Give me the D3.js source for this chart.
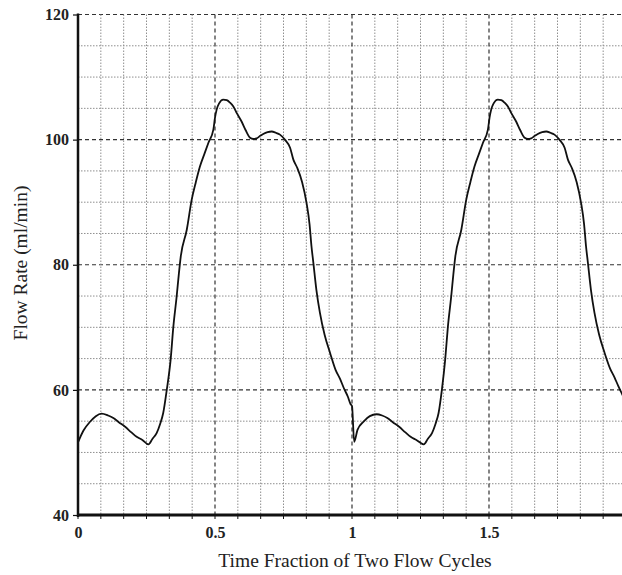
<!DOCTYPE html>
<html>
<head>
<meta charset="utf-8">
<script src="https://cdn.jsdelivr.net/npm/d3@7"></script>
<style>
  html, body { margin: 0; padding: 0; background: #fff; }
  svg { display: block; }
</style>
</head>
<body>
<svg id="chart" width="622" height="575"></svg>
<script>
// ---- data ----
const cycle1Time = [0.000,0.020,0.044,0.065,0.086,0.110,0.129,0.150,0.172,0.195,0.214,0.235,0.257,0.272,0.287,0.300,0.311,0.324,0.338,0.348,0.360,0.368,0.375,0.397,0.415,0.430,0.445,0.462,0.476,0.494,0.500,0.506,0.515,0.530,0.543,0.555,0.567,0.580,0.597,0.612,0.628,0.640,0.652,0.665,0.676,0.692,0.707,0.722,0.737,0.755,0.774,0.786,0.800,0.818,0.834,0.845,0.852,0.859,0.870,0.883,0.900,0.920,0.940,0.956,0.970,0.985,0.995,1.000];
const cycle1Flow = [51.6,53.5,54.9,55.8,56.2,55.9,55.5,54.8,54.1,53.2,52.5,52.0,51.3,52.2,53.1,54.6,56.3,60.0,64.8,70.1,74.9,78.5,81.3,85.6,90.4,93.2,95.7,97.8,99.5,101.6,103.5,104.8,105.8,106.4,106.3,105.9,105.3,104.2,102.9,101.5,100.3,100.1,100.2,100.6,100.9,101.2,101.3,101.1,100.8,100.0,98.7,96.8,95.5,93.2,89.9,86.5,83.0,80.3,76.0,72.3,68.8,65.9,63.2,61.8,60.3,58.9,57.7,57.4];
const cycle2Time = [1.008,1.020,1.044,1.065,1.090,1.110,1.129,1.150,1.172,1.195,1.214,1.235,1.262,1.277,1.292,1.305,1.316,1.328,1.340,1.350,1.362,1.370,1.377,1.399,1.417,1.432,1.447,1.464,1.478,1.496,1.502,1.508,1.517,1.532,1.545,1.557,1.569,1.582,1.599,1.614,1.630,1.642,1.654,1.667,1.678,1.694,1.709,1.724,1.739,1.757,1.776,1.788,1.802,1.820,1.836,1.847,1.854,1.861,1.872,1.885,1.902,1.922,1.942,1.958,1.972,1.985,2.000];
const cycle2Flow = [51.7,53.6,55.0,55.8,56.1,55.9,55.5,54.8,54.1,53.2,52.5,52.0,51.3,52.2,53.1,54.6,56.3,60.0,64.8,70.1,74.9,78.5,81.3,85.6,90.4,93.2,95.7,97.8,99.5,101.6,103.5,104.8,105.8,106.4,106.3,105.9,105.3,104.2,102.9,101.5,100.3,100.1,100.2,100.6,100.9,101.2,101.3,101.1,100.8,100.0,98.7,96.8,95.5,93.2,89.9,86.5,83.0,80.3,76.0,72.3,68.8,65.9,63.4,62.0,60.6,59.4,58.0];
const xTickValues = [0, 0.5, 1, 1.5, 2];
const xTickLabels = ["0", "0.5", "1", "1.5", "2"];
const yTickValues = [40, 60, 80, 100, 120];
const yTickLabels = ["40", "60", "80", "100", "120"];
const xTitle = "Time Fraction of Two Flow Cycles";
const yTitle = "Flow Rate (ml/min)";

// ---- layout ----
const svg = d3.select("#chart");
const padL = 78, padR = 626, padT = 14.5, padB = 515;
const x = d3.scaleLinear().domain([0, 2]).range([padL, padR]);
const y = d3.scaleLinear().domain([40, 120]).range([padB, padT]);
const serif = "'Liberation Serif', 'Times New Roman', serif";

const xMinor = d3.range(1, 24).map(k => k / 12);
const yMinor = d3.range(45, 121, 5);

const grid = svg.append("g");
// horizontal grid
grid.selectAll("line.h").data(yMinor).enter().append("line")
  .attr("x1", padL).attr("x2", 622)
  .attr("y1", d => y(d)).attr("y2", d => y(d))
  .attr("stroke", d => d % 20 === 0 ? "#333" : "#8f8f8f")
  .attr("stroke-width", d => d % 20 === 0 ? 1.2 : 1)
  .attr("stroke-dasharray", d => d % 20 === 0 ? "4,3" : "1.5,1.5");
// vertical grid
grid.selectAll("line.v").data(xMinor).enter().append("line")
  .attr("y1", padT).attr("y2", padB)
  .attr("x1", d => x(d)).attr("x2", d => x(d))
  .attr("stroke", (d, i) => (i + 1) % 6 === 0 ? "#333" : "#8f8f8f")
  .attr("stroke-width", (d, i) => (i + 1) % 6 === 0 ? 1.2 : 1)
  .attr("stroke-dasharray", (d, i) => (i + 1) % 6 === 0 ? "4,3" : "1.5,1.5");

// ---- curve ----
const pts = cycle1Time.map((t, i) => [t, cycle1Flow[i]])
  .concat(cycle2Time.map((t, i) => [t, cycle2Flow[i]]));
const line = d3.line().x(d => x(d[0])).y(d => y(d[1])).curve(d3.curveMonotoneX);
svg.append("path").datum(pts)
  .attr("d", line)
  .attr("fill", "none")
  .attr("stroke", "#111")
  .attr("stroke-width", 1.8)
  .attr("stroke-linejoin", "round");

// ---- axes ----
const xAxis = d3.axisBottom(x).tickValues(xTickValues)
  .tickFormat((d, i) => xTickLabels[i]).tickSize(0).tickPadding(12);
const gx = svg.append("g").attr("transform", `translate(0,${padB})`).call(xAxis);
gx.select(".domain").remove();
gx.selectAll("text").attr("font-family", serif)
  .attr("font-size", 16).attr("font-weight", "bold").attr("fill", "#222");

// minor x ticks
svg.append("g").selectAll("line").data([0].concat(xMinor)).enter().append("line")
  .attr("x1", d => x(d)).attr("x2", d => x(d))
  .attr("y1", padB).attr("y2", padB + 4)
  .attr("stroke", "#111").attr("stroke-width", 1);

const yAxis = d3.axisLeft(y).tickValues(yTickValues)
  .tickFormat((d, i) => yTickLabels[i]).tickSize(5).tickPadding(4);
const gy = svg.append("g").attr("transform", `translate(${padL},0)`).call(yAxis);
gy.select(".domain").remove();
gy.selectAll(".tick line").attr("stroke", "#111").attr("stroke-width", 1.2);
gy.selectAll("text").attr("font-family", serif)
  .attr("font-size", 16).attr("font-weight", "bold").attr("fill", "#222");

// axis lines
svg.append("line").attr("x1", padL).attr("x2", padL)
  .attr("y1", padT - 1).attr("y2", padB + 2)
  .attr("stroke", "#111").attr("stroke-width", 2.5);
svg.append("line").attr("x1", padL - 1).attr("x2", 622)
  .attr("y1", padB).attr("y2", padB)
  .attr("stroke", "#111").attr("stroke-width", 3);

// titles
svg.append("text").attr("x", 355).attr("y", 567)
  .attr("text-anchor", "middle")
  .attr("font-family", serif)
  .attr("font-size", 19.5).attr("fill", "#222").text(xTitle);
svg.append("text")
  .attr("transform", `translate(27,263) rotate(-90)`)
  .attr("text-anchor", "middle")
  .attr("font-family", serif)
  .attr("font-size", 19.5).attr("fill", "#222").text(yTitle);
</script>
</body>
</html>
